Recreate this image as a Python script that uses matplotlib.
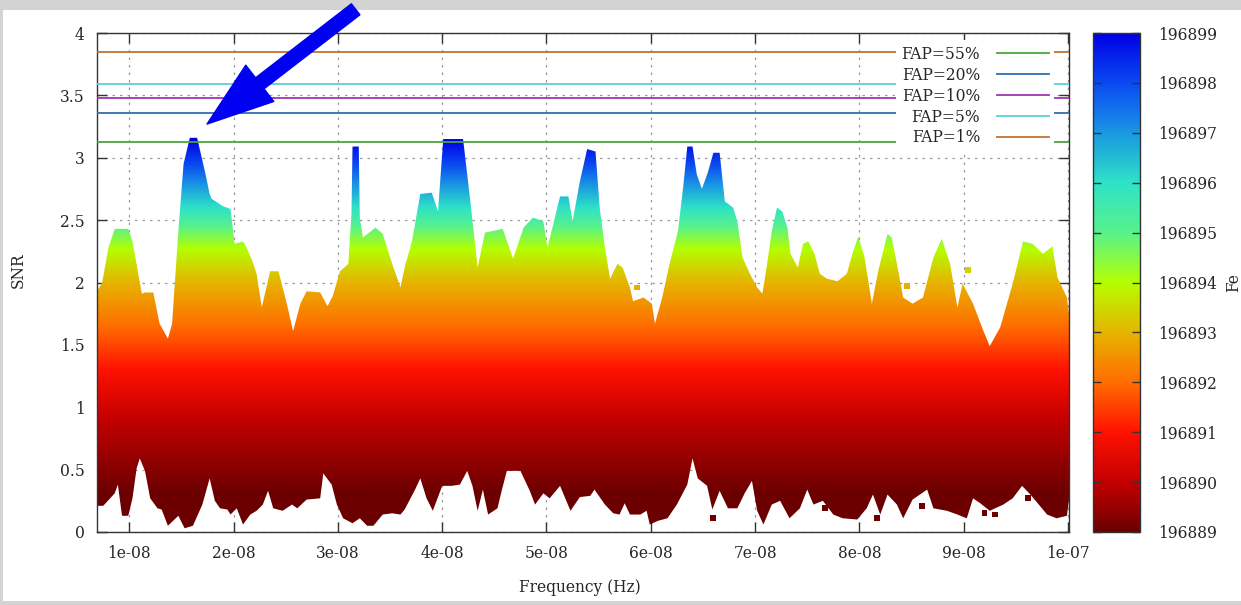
import numpy as np
import matplotlib
matplotlib.use('Agg')
import matplotlib.pyplot as plt
from matplotlib.colors import LinearSegmentedColormap
from matplotlib.patches import Polygon, Rectangle
from matplotlib.lines import Line2D

# ---------------- data (frequencies in units of 1e-8 Hz) ----------------
upper_freq_e8 = [0.69, 0.74, 0.80, 0.86, 0.99, 1.03, 1.12, 1.15, 1.23, 1.29,
                 1.37, 1.41, 1.47, 1.52, 1.58, 1.65, 1.73, 1.77, 1.79, 1.90,
                 1.97, 2.01, 2.09, 2.13, 2.19, 2.22, 2.27, 2.35, 2.43, 2.51,
                 2.57, 2.64, 2.70, 2.83, 2.90, 2.95, 3.02, 3.10, 3.13, 3.14,
                 3.20, 3.21, 3.24, 3.36, 3.43, 3.52, 3.60, 3.64, 3.71, 3.79,
                 3.90, 3.96, 4.01, 4.20, 4.27, 4.34, 4.41, 4.58, 4.68, 4.78,
                 4.87, 4.97, 5.01, 5.13, 5.21, 5.25, 5.32, 5.39, 5.47, 5.51,
                 5.56, 5.61, 5.68, 5.73, 5.80, 5.83, 5.93, 6.01, 6.04, 6.11,
                 6.18, 6.26, 6.31, 6.35, 6.40, 6.44, 6.49, 6.55, 6.60, 6.66,
                 6.71, 6.79, 6.83, 6.88, 6.95, 7.02, 7.07, 7.11, 7.16, 7.21,
                 7.26, 7.31, 7.34, 7.41, 7.46, 7.51, 7.57, 7.62, 7.69, 7.79,
                 7.88, 7.94, 7.99, 8.05, 8.12, 8.18, 8.27, 8.31, 8.36, 8.42,
                 8.51, 8.61, 8.71, 8.79, 8.87, 8.94, 8.99, 9.09, 9.19, 9.25,
                 9.35, 9.47, 9.57, 9.66, 9.76, 9.85, 9.90, 9.99, 10.01]
upper_snr = [1.93, 2.00, 2.28, 2.43, 2.43, 2.33, 1.91, 1.92, 1.92, 1.67,
             1.55, 1.67, 2.41, 2.95, 3.16, 3.16, 2.87, 2.71, 2.67, 2.61,
             2.59, 2.31, 2.33, 2.27, 2.15, 2.07, 1.80, 2.09, 2.09, 1.83,
             1.61, 1.83, 1.93, 1.92, 1.81, 1.89, 2.09, 2.15, 2.55, 3.09,
             3.09, 2.52, 2.36, 2.44, 2.39, 2.15, 1.96, 2.12, 2.33, 2.71,
             2.72, 2.57, 3.15, 3.15, 2.65, 2.12, 2.40, 2.43, 2.19, 2.44,
             2.52, 2.49, 2.28, 2.69, 2.69, 2.49, 2.81, 3.07, 3.05, 2.60,
             2.28, 2.03, 2.15, 2.12, 1.96, 1.85, 1.88, 1.83, 1.67, 1.88,
             2.15, 2.41, 2.76, 3.09, 3.09, 2.87, 2.75, 2.89, 3.04, 3.04,
             2.65, 2.60, 2.49, 2.20, 2.07, 1.96, 1.91, 2.12, 2.41, 2.60,
             2.57, 2.44, 2.23, 2.12, 2.31, 2.33, 2.23, 2.07, 2.03, 2.01,
             2.07, 2.25, 2.37, 2.20, 1.83, 2.09, 2.39, 2.36, 2.15, 1.88,
             1.83, 1.88, 2.20, 2.35, 2.15, 1.80, 1.99, 1.83, 1.61, 1.49,
             1.64, 1.99, 2.33, 2.31, 2.23, 2.29, 2.04, 1.88, 1.75]

lower_freq_e8 = [0.69, 0.75, 0.86, 0.89, 0.93, 0.99, 1.03, 1.07, 1.10, 1.15,
                 1.20, 1.27, 1.31, 1.37, 1.47, 1.53, 1.61, 1.70, 1.77, 1.82,
                 1.87, 1.94, 1.97, 2.03, 2.09, 2.16, 2.22, 2.28, 2.33, 2.38,
                 2.47, 2.56, 2.61, 2.70, 2.83, 2.86, 2.94, 2.99, 3.05, 3.14,
                 3.21, 3.28, 3.34, 3.43, 3.52, 3.60, 3.64, 3.74, 3.79, 3.85,
                 3.91, 4.00, 4.09, 4.17, 4.24, 4.29, 4.34, 4.39, 4.44, 4.53,
                 4.57, 4.62, 4.75, 4.84, 4.89, 4.97, 5.03, 5.13, 5.23, 5.32,
                 5.42, 5.46, 5.56, 5.64, 5.70, 5.75, 5.80, 5.90, 5.96, 5.99,
                 6.07, 6.16, 6.25, 6.35, 6.40, 6.45, 6.54, 6.59, 6.66, 6.74,
                 6.83, 6.90, 6.97, 7.02, 7.08, 7.16, 7.24, 7.33, 7.43, 7.50,
                 7.56, 7.65, 7.75, 7.84, 7.98, 8.07, 8.13, 8.20, 8.27, 8.36,
                 8.42, 8.51, 8.65, 8.71, 8.84, 8.94, 9.03, 9.09, 9.16, 9.25,
                 9.38, 9.47, 9.56, 9.64, 9.73, 9.80, 9.89, 9.99, 10.01]
lower_snr = [0.21, 0.21, 0.31, 0.38, 0.13, 0.13, 0.27, 0.51, 0.59, 0.49,
             0.27, 0.19, 0.18, 0.05, 0.13, 0.03, 0.05, 0.22, 0.43, 0.25,
             0.19, 0.18, 0.14, 0.19, 0.06, 0.14, 0.17, 0.22, 0.33, 0.19,
             0.17, 0.22, 0.19, 0.26, 0.27, 0.47, 0.38, 0.22, 0.11, 0.07,
             0.11, 0.05, 0.05, 0.14, 0.15, 0.14, 0.18, 0.34, 0.43, 0.27,
             0.17, 0.37, 0.37, 0.38, 0.49, 0.37, 0.17, 0.34, 0.14, 0.19,
             0.33, 0.49, 0.49, 0.33, 0.22, 0.31, 0.27, 0.37, 0.17, 0.28,
             0.29, 0.34, 0.22, 0.15, 0.14, 0.23, 0.14, 0.14, 0.17, 0.06,
             0.09, 0.11, 0.22, 0.38, 0.59, 0.43, 0.37, 0.18, 0.33, 0.19,
             0.19, 0.31, 0.41, 0.17, 0.06, 0.22, 0.25, 0.11, 0.19, 0.34,
             0.22, 0.25, 0.14, 0.11, 0.10, 0.19, 0.30, 0.14, 0.30, 0.22,
             0.11, 0.26, 0.34, 0.19, 0.17, 0.14, 0.11, 0.27, 0.23, 0.17,
             0.22, 0.27, 0.37, 0.30, 0.21, 0.14, 0.11, 0.13, 0.26]

speck_freq_e8 = [6.60, 7.67, 8.17, 8.60, 9.20, 9.30, 9.62, 5.87, 8.46, 9.04]
speck_snr = [0.11, 0.19, 0.11, 0.21, 0.15, 0.14, 0.27, 1.96, 1.97, 2.10]

fap_labels = ['FAP=55%', 'FAP=20%', 'FAP=10%', 'FAP=5%', 'FAP=1%']
fap_levels = [3.13, 3.36, 3.48, 3.59, 3.85]
fap_colors = ['#4aa53c', '#2f6fae', '#a034b8', '#55d2dc', '#bf7234']

fe_ticks = list(range(196889, 196900))
fe_colors = ['#6c0000', '#c40000', '#ff1200', '#ff6e00', '#e6b400', '#b4ff00',
             '#58f28c', '#2ee2c6', '#1a98e2', '#0a4af2', '#0000e4']
# SNR at which the fill colour equals each Fe tick colour
snr_for_fe = [0.30, 0.90, 1.30, 1.65, 2.00, 2.27, 2.45, 2.60, 2.78, 2.95, 3.15]

xtick_vals = [1e-8, 2e-8, 3e-8, 4e-8, 5e-8, 6e-8, 7e-8, 8e-8, 9e-8, 1e-7]
xtick_labels = ['1e-08', '2e-08', '3e-08', '4e-08', '5e-08', '6e-08', '7e-08',
                '8e-08', '9e-08', '1e-07']
ytick_vals = [0, 0.5, 1, 1.5, 2, 2.5, 3, 3.5, 4]
ytick_labels = ['0', '0.5', '1', '1.5', '2', '2.5', '3', '3.5', '4']

# ---------------- figure ----------------
plt.rcParams['font.family'] = ['DejaVu Serif']
FS = 11.2
TXT = '#262626'

W, H = 1241, 605
fig = plt.figure(figsize=(W / 100, H / 100), dpi=100, facecolor='#d3d3d3')
fig.patches.append(Rectangle((3 / W, (H - 601) / H), (W - 3) / W, (601 - 10) / H,
                             transform=fig.transFigure, facecolor='white',
                             edgecolor='none', zorder=-10))

ax = fig.add_axes([97 / W, (H - 532) / H, (1069 - 97) / W, (532 - 33) / H])
xmin, xmax = 0.69e-8, 1.001e-7

cmap = LinearSegmentedColormap.from_list('fe', fe_colors)

fu = np.array(upper_freq_e8) * 1e-8
fl = np.array(lower_freq_e8) * 1e-8
su = np.array(upper_snr)
sl = np.array(lower_snr)
poly_xy = np.concatenate([np.column_stack([fu, su]),
                          np.column_stack([fl[::-1], sl[::-1]])])
poly = Polygon(poly_xy, closed=True, facecolor='none', edgecolor='none')
ax.add_patch(poly)

snr_grid = np.linspace(0, 4, 1200)
fe_grid = np.interp(snr_grid, snr_for_fe, fe_ticks)
img = ax.imshow(fe_grid[:, None], extent=[xmin, xmax, 0, 4], origin='lower',
                aspect='auto', cmap=cmap, vmin=fe_ticks[0], vmax=fe_ticks[-1],
                interpolation='bilinear', zorder=2)
img.set_clip_path(poly)

sp_s = np.array(speck_snr)
ax.scatter(np.array(speck_freq_e8) * 1e-8, sp_s,
           c=np.interp(sp_s, snr_for_fe, fe_ticks), cmap=cmap,
           vmin=fe_ticks[0], vmax=fe_ticks[-1], marker='s', s=18,
           linewidths=0, zorder=2)

handles = []
for lvl, col in zip(fap_levels, fap_colors):
    ax.axhline(lvl, color=col, lw=1.3, zorder=3)
    handles.append(Line2D([], [], color=col, lw=1.3))

ax.set_xlim(xmin, xmax)
ax.set_ylim(0, 4)
ax.set_xticks(xtick_vals)
ax.set_xticklabels(xtick_labels)
ax.set_yticks(ytick_vals)
ax.set_yticklabels(ytick_labels)
ax.tick_params(direction='in', length=7, width=1, top=True, right=True,
               labelsize=FS, labelcolor=TXT, color='#333333')
ax.tick_params(axis='x', pad=9)
ax.tick_params(axis='y', pad=9)
ax.set_axisbelow(True)
ax.grid(True, linestyle=(0, (2, 4)), color='#9a9a9a', lw=0.9)
for s in ax.spines.values():
    s.set_color('#333333')
    s.set_linewidth(1.0)

leg = ax.legend(handles, fap_labels, loc='upper right',
                bbox_to_anchor=(0.9846, 0.985), borderaxespad=0,
                markerfirst=False, frameon=True, facecolor='white',
                edgecolor='none', framealpha=1, fancybox=False,
                handlelength=3.3, handletextpad=1.1, labelspacing=0.25,
                borderpad=0.35, fontsize=FS)
leg.set_zorder(5)
for t in leg.get_texts():
    t.set_color(TXT)

# arrow annotation
ax.annotate('', xy=(1.745e-8, 3.27), xytext=(3.17e-8, 4.19),
            arrowprops=dict(arrowstyle='simple,head_length=4.8,head_width=3.3,tail_width=1.0',
                            mutation_scale=10, color='#0000f2', shrinkA=0, shrinkB=0),
            annotation_clip=False, zorder=6)

# axis labels
fig.text(18 / W, 1 - 270 / H, 'SNR', rotation=90, ha='center', va='center',
         fontsize=FS, color=TXT)
fig.text(580 / W, 1 - 587 / H, 'Frequency (Hz)', ha='center', va='center',
         fontsize=FS, color=TXT)

# colorbar
cax = fig.add_axes([1093 / W, (H - 532) / H, 47 / W, (532 - 33) / H])
cb = fig.colorbar(img, cax=cax, ticks=fe_ticks)
cb.set_ticklabels([str(t) for t in fe_ticks])
cax.yaxis.set_ticks_position('both')
cax.tick_params(direction='in', length=6, width=1, labelsize=FS,
                labelcolor=TXT, pad=13, color='#333333', labelleft=False,
                labelright=True)
cb.outline.set_linewidth(1.0)
cb.outline.set_edgecolor('#333333')
fig.text(1234 / W, 1 - 283 / H, 'Fe', rotation=90, ha='center', va='center',
         fontsize=FS, color=TXT)

fig.savefig('out.png', dpi=100, facecolor=fig.get_facecolor())
